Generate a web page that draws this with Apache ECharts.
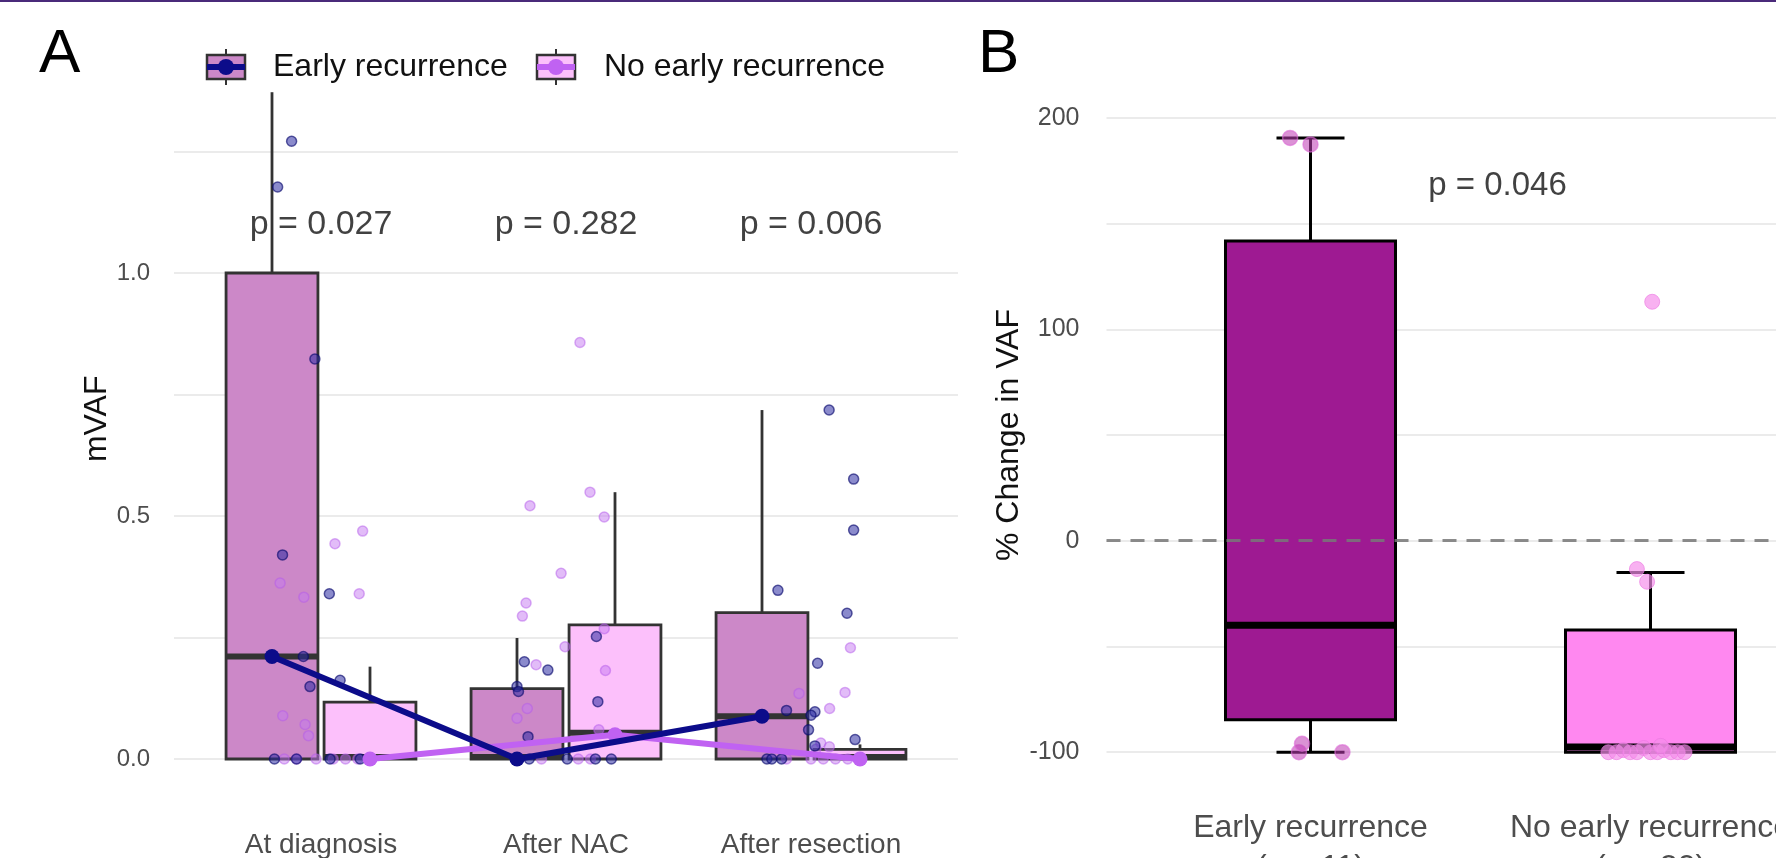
<!DOCTYPE html>
<html>
<head>
    <meta charset="utf-8">
    <title>mVAF and early recurrence</title>
    <script src="https://cdn.jsdelivr.net/npm/echarts@6.0.0/dist/echarts.min.js"></script>
    <style>
        html, body {
            margin: 0;
            padding: 0;
            background: #ffffff;
        }

        #main {
            width: 1776px;
            height: 858px;
        }
    </style>
</head>
<body>
<div id="main"></div>
<script>
    // ---- panel A data ----
    var categoriesA = ['At diagnosis', 'After NAC', 'After resection'];
    // [lower whisker, q1, median, q3, upper whisker]
    var earlyBoxA = [[0, 0, 0.211, 1.0, 1.372], [0, 0, 0.004, 0.145, 0.249], [0, 0, 0.088, 0.301, 0.718]];
    var noEarlyBoxA = [[0, 0, 0.004, 0.117, 0.19], [0, 0, 0.054, 0.276, 0.549], [0, 0, 0.004, 0.02, 0.03]];
    var earlyMeanA = [0.211, 0.0, 0.088];
    var noEarlyMeanA = [0.0, 0.05, 0.0];
    var pValuesA = ['p = 0.027', 'p = 0.282', 'p = 0.006'];
    var pLevelA = 1.1;
    var tickLabelsA = [0, 0.5, 1.0];
    // jittered points [x, mVAF]
    var earlyPointsA = [
        [0.88, 1.271], [0.823, 1.177], [0.975, 0.823], [0.843, 0.42], [1.034, 0.34], [0.928, 0.211],
        [0.955, 0.149], [1.078, 0.162], [0.81, 0], [1.037, 0], [1.16, 0], [0.9, 0],
        [2.124, 0.252], [1.83, 0.2], [1.926, 0.183], [1.8, 0.149], [1.806, 0.139], [2.13, 0.118],
        [1.845, 0.046], [2.005, 0], [2.12, 0], [2.185, 0], [1.85, 0],
        [3.074, 0.718], [3.174, 0.576], [3.174, 0.471], [2.865, 0.347], [3.147, 0.3], [3.027, 0.197],
        [2.9, 0.1], [3.016, 0.097], [3.0, 0.09], [2.99, 0.06], [3.18, 0.04], [3.016, 0.027],
        [2.82, 0], [2.84, 0], [2.88, 0]
    ];
    var noEarlyPointsA = [
        [1.057, 0.443], [1.17, 0.469], [1.156, 0.34], [0.833, 0.362], [0.93, 0.333], [0.844, 0.089],
        [0.935, 0.071], [0.949, 0.048], [0.85, 0], [0.9, 0], [0.98, 0], [1.05, 0], [1.1, 0], [1.15, 0],
        [2.057, 0.857], [1.853, 0.521], [2.098, 0.549], [2.156, 0.498], [1.98, 0.382], [1.837, 0.321],
        [1.822, 0.294], [2.156, 0.268], [1.996, 0.231], [1.878, 0.194], [2.161, 0.182], [1.842, 0.104],
        [1.8, 0.084], [2.134, 0.06], [1.9, 0], [2.05, 0], [2.1, 0],
        [3.161, 0.229], [3.139, 0.137], [3.076, 0.104], [2.951, 0.135], [3.04, 0.033], [3.075, 0.025],
        [3.02, 0.02], [2.9, 0], [3.0, 0], [3.05, 0], [3.1, 0], [3.15, 0]
    ];

    // ---- panel B data ----
    var categoriesB = ['Early recurrence', 'No early recurrence'];
    var groupSizesB = ['(n = 11)', '(n = 20)'];
    var boxB = [[-100, -84.7, -40, 141.7, 190.4], [-100, -100, -97.5, -42.2, -15]];
    var earlyPointsB = [[0.94, 190.5], [1.0, 187.4], [0.966, -100], [0.975, -96], [1.094, -100]];
    var noEarlyPointsB = [
        [2.005, 113], [1.96, -13.4], [1.99, -19.4],
        [1.876, -100], [1.9, -100], [1.92, -99], [1.94, -100], [1.96, -100], [1.98, -98],
        [2.0, -100], [2.02, -100], [2.04, -99], [2.06, -100], [2.08, -100], [2.1, -100], [2.03, -97]
    ];
    var pValueB = 'p = 0.046';
    var pPosB = [1.55, 168];
    var tickLabelsB = [-100, 0, 100, 200];

    // ---- styles ----
    var NAVY = '#0c0c8a';
    var VIOLET = '#c062f2';
    var FILL_EARLY_A = '#cc88c8';
    var FILL_NOEARLY_A = '#fcc0fb';
    var FILL_EARLY_B = '#9e1a92';
    var FILL_NOEARLY_B = '#ff88f0';
    var GRID_COLOR = '#ebebeb';
    var LABEL_COLOR = '#4d4d4d';
    var FONT = 'Liberation Sans, Arial, sans-serif';
    var DODGE = 0.2;
    var BOXW_A = 0.375;
    var BOXW_B = 0.5;
    var LABEL_TOP_B = 76;    // gap between the -100 line and the centre of the panel B category labels
    var LINE_GAP_B = 40;     // second label line (mostly below the page edge)

    function boxRenderer(fill, width, lw, medW, capW, stroke) {
        return function (params, api) {
            var x = api.value(0);
            var lo = api.value(1), q1 = api.value(2), med = api.value(3), q3 = api.value(4), hi = api.value(5);
            var hw = width / 2;
            var tl = api.coord([x - hw, q3]);
            var br = api.coord([x + hw, q1]);
            var top = api.coord([x, hi]);
            var bot = api.coord([x, lo]);
            var ml = api.coord([x - hw, med]);
            var mr = api.coord([x + hw, med]);
            var st = {stroke: stroke, lineWidth: lw};
            var children = [
                {type: 'line', shape: {x1: top[0], y1: top[1], x2: top[0], y2: tl[1]}, style: st},
                {type: 'line', shape: {x1: bot[0], y1: br[1], x2: bot[0], y2: bot[1]}, style: st},
                {
                    type: 'rect',
                    shape: {x: tl[0], y: tl[1], width: br[0] - tl[0], height: br[1] - tl[1]},
                    style: {fill: fill, stroke: stroke, lineWidth: lw}
                },
                {type: 'line', shape: {x1: ml[0], y1: ml[1], x2: mr[0], y2: mr[1]}, style: {stroke: stroke, lineWidth: medW}}
            ];
            if (capW) {
                var c1 = api.coord([x - capW / 2, hi]), c2 = api.coord([x + capW / 2, hi]);
                var c3 = api.coord([x - capW / 2, lo]), c4 = api.coord([x + capW / 2, lo]);
                children.push({type: 'line', shape: {x1: c1[0], y1: c1[1], x2: c2[0], y2: c2[1]}, style: st});
                children.push({type: 'line', shape: {x1: c3[0], y1: c3[1], x2: c4[0], y2: c4[1]}, style: st});
            }
            return {type: 'group', children: children};
        };
    }

    function boxData(stats, offset) {
        return stats.map(function (s, i) {
            return [i + 1 + offset].concat(s);
        });
    }

    function legendKey(cx, cy, fill, color) {
        return {
            type: 'group',
            children: [
                {type: 'line', shape: {x1: cx, y1: cy - 18, x2: cx, y2: cy + 18}, style: {stroke: '#333', lineWidth: 2}},
                {type: 'rect', shape: {x: cx - 19, y: cy - 12, width: 38, height: 24}, style: {fill: fill, stroke: '#333', lineWidth: 2.5}},
                {type: 'line', shape: {x1: cx - 19, y1: cy, x2: cx + 19, y2: cy}, style: {stroke: color, lineWidth: 6}},
                {type: 'circle', shape: {cx: cx, cy: cy, r: 8}, style: {fill: color}}
            ]
        };
    }

    var chart = echarts.init(document.getElementById('main'));

    var option = {
        animation: false,
        backgroundColor: '#ffffff',
        textStyle: {fontFamily: FONT},
        grid: [
            {left: 174, top: 78.6, width: 784, height: 680.4, outerBoundsMode: 'none'},
            {left: 198.5, top: 78.6, width: 735, height: 680.4, outerBoundsMode: 'none'},
            {left: 1106.5, top: 117.8, width: 748, height: 634.4, outerBoundsMode: 'none'}
        ],
        xAxis: [
            {gridIndex: 0, type: 'value', min: 0.4, max: 3.6, show: false},
            {
                gridIndex: 1, type: 'category', data: categoriesA,
                axisLine: {show: false}, axisTick: {show: false},
                axisLabel: {interval: 0, margin: 72, fontSize: 28, color: LABEL_COLOR, fontFamily: FONT}
            },
            {gridIndex: 2, type: 'value', min: 0.4, max: 2.6, show: false}
        ],
        yAxis: [
            {
                gridIndex: 0, type: 'value', min: 0, max: 1.4, interval: 0.25,
                axisLine: {show: false}, axisTick: {show: false},
                axisLabel: {
                    margin: 24, fontSize: 24, color: LABEL_COLOR, fontFamily: FONT,
                    formatter: function (v) {
                        return tickLabelsA.indexOf(v) >= 0 ? v.toFixed(1) : '';
                    }
                },
                splitLine: {
                    show: true, showMaxLine: false,
                    lineStyle: {color: [GRID_COLOR, GRID_COLOR, GRID_COLOR, GRID_COLOR, GRID_COLOR, GRID_COLOR, 'rgba(255,255,255,0)'], width: 2}
                },
                name: 'mVAF', nameLocation: 'middle', nameGap: 56,
                nameTextStyle: {fontSize: 32, color: '#111', fontFamily: FONT}
            },
            {gridIndex: 1, type: 'value', min: 0, max: 1.4, show: false},
            {
                gridIndex: 2, type: 'value', min: -100, max: 200, interval: 50,
                axisLine: {show: false}, axisTick: {show: false},
                axisLabel: {
                    margin: 27, fontSize: 25, color: LABEL_COLOR, fontFamily: FONT,
                    formatter: function (v) {
                        return tickLabelsB.indexOf(v) >= 0 ? String(v) : '';
                    }
                },
                splitLine: {show: true, lineStyle: {color: GRID_COLOR, width: 2}},
                name: '% Change in VAF', nameLocation: 'middle', nameGap: 80,
                nameTextStyle: {fontSize: 32, color: '#111', fontFamily: FONT}
            }
        ],
        series: [
            // panel A boxes
            {
                type: 'custom', xAxisIndex: 0, yAxisIndex: 0, z: 2, silent: true,
                renderItem: boxRenderer(FILL_EARLY_A, BOXW_A, 2.8, 6, 0, '#333333'),
                data: boxData(earlyBoxA, -DODGE)
            },
            {
                type: 'custom', xAxisIndex: 0, yAxisIndex: 0, z: 2, silent: true,
                renderItem: boxRenderer(FILL_NOEARLY_A, BOXW_A, 2.8, 6, 0, '#333333'),
                data: boxData(noEarlyBoxA, DODGE)
            },
            // panel A jittered points
            {
                type: 'scatter', xAxisIndex: 0, yAxisIndex: 0, z: 3, silent: true, clip: false,
                symbolSize: 10, data: noEarlyPointsA,
                itemStyle: {color: 'rgba(196,120,240,0.62)', borderColor: 'rgba(180,90,235,0.6)', borderWidth: 1.5}
            },
            {
                type: 'scatter', xAxisIndex: 0, yAxisIndex: 0, z: 3, silent: true, clip: false,
                symbolSize: 10, data: earlyPointsA,
                itemStyle: {color: 'rgba(40,40,160,0.68)', borderColor: 'rgba(10,10,110,0.8)', borderWidth: 1.5}
            },
            // panel A mean lines
            {
                type: 'line', xAxisIndex: 0, yAxisIndex: 0, z: 4, silent: true, clip: false,
                data: noEarlyMeanA.map(function (v, i) { return [i + 1 + DODGE, v]; }),
                symbol: 'circle', symbolSize: 15,
                lineStyle: {color: VIOLET, width: 6}, itemStyle: {color: VIOLET}
            },
            {
                type: 'line', xAxisIndex: 0, yAxisIndex: 0, z: 5, silent: true, clip: false,
                data: earlyMeanA.map(function (v, i) { return [i + 1 - DODGE, v]; }),
                symbol: 'circle', symbolSize: 15,
                lineStyle: {color: NAVY, width: 6}, itemStyle: {color: NAVY}
            },
            // panel A p-values
            {
                type: 'scatter', xAxisIndex: 0, yAxisIndex: 0, z: 6, silent: true,
                symbolSize: 1, itemStyle: {color: 'rgba(0,0,0,0)'},
                data: pValuesA.map(function (p, i) { return [i + 1, pLevelA]; }),
                label: {
                    show: true, position: 'inside', fontSize: 34, color: '#111', fontFamily: FONT,
                    formatter: function (params) { return pValuesA[params.dataIndex]; }
                }
            },
            // panel B boxes
            {
                type: 'custom', xAxisIndex: 2, yAxisIndex: 2, z: 2, silent: true,
                renderItem: function (params, api) {
                    var fill = params.dataIndex === 0 ? FILL_EARLY_B : FILL_NOEARLY_B;
                    return boxRenderer(fill, BOXW_B, 3, 7, 0.2, '#000000')(params, api);
                },
                data: boxData(boxB, 0)
            },
            // panel B points
            {
                type: 'scatter', xAxisIndex: 2, yAxisIndex: 2, z: 3, silent: true, clip: false,
                symbolSize: 15, data: earlyPointsB,
                itemStyle: {color: 'rgba(190,60,180,0.7)', borderColor: 'rgba(220,110,215,0.8)', borderWidth: 1.5}
            },
            {
                type: 'scatter', xAxisIndex: 2, yAxisIndex: 2, z: 3, silent: true, clip: false,
                symbolSize: 15, data: noEarlyPointsB,
                itemStyle: {color: 'rgba(245,140,235,0.85)', borderColor: 'rgba(235,120,225,0.8)', borderWidth: 1}
            },
            // panel B zero line and p-value
            {
                type: 'scatter', xAxisIndex: 2, yAxisIndex: 2, z: 6, silent: true,
                symbolSize: 1, itemStyle: {color: 'rgba(0,0,0,0)'},
                data: [pPosB],
                label: {
                    show: true, position: 'inside', fontSize: 33, color: '#111', fontFamily: FONT,
                    formatter: pValueB
                },
                markLine: {
                    silent: true, symbol: 'none', label: {show: false},
                    lineStyle: {color: 'rgba(120,120,120,0.85)', type: [14, 10], width: 3},
                    data: [{yAxis: 0}]
                }
            }
        ],
        graphic: [
            {type: 'rect', shape: {x: 0, y: 0, width: 1776, height: 2}, style: {fill: '#4a2a7a'}},
            {type: 'text', left: 39, top: 24, style: {text: 'A', fontSize: 62, fill: '#000', fontFamily: FONT}},
            {type: 'text', left: 978, top: 24, style: {text: 'B', fontSize: 62, fill: '#000', fontFamily: FONT}},
            legendKey(226, 67, FILL_EARLY_A, NAVY),
            {type: 'text', x: 273, y: 67, style: {text: 'Early recurrence', fontSize: 32, fill: '#111', fontFamily: FONT, verticalAlign: 'middle'}},
            legendKey(556, 67, FILL_NOEARLY_A, VIOLET),
            {type: 'text', x: 604, y: 67, style: {text: 'No early recurrence', fontSize: 32, fill: '#111', fontFamily: FONT, verticalAlign: 'middle'}}
        ]
    };

    chart.setOption(option);

    // panel B category labels: x from the panel B scale, placed under the -100 line
    var labelsB = [];
    categoriesB.forEach(function (c, i) {
        var p = chart.convertToPixel({gridIndex: 2}, [i + 1, -100]);
        labelsB.push({
            type: 'text', x: p[0], y: p[1] + LABEL_TOP_B,
            style: {text: c, fontSize: 32, fill: LABEL_COLOR, fontFamily: FONT, align: 'center', verticalAlign: 'middle'}
        });
        labelsB.push({
            type: 'text', x: p[0], y: p[1] + LABEL_TOP_B + LINE_GAP_B,
            style: {text: groupSizesB[i], fontSize: 32, fill: LABEL_COLOR, fontFamily: FONT, align: 'center', verticalAlign: 'middle'}
        });
    });
    chart.setOption({graphic: option.graphic.concat(labelsB)});
</script>
</body>
</html>
